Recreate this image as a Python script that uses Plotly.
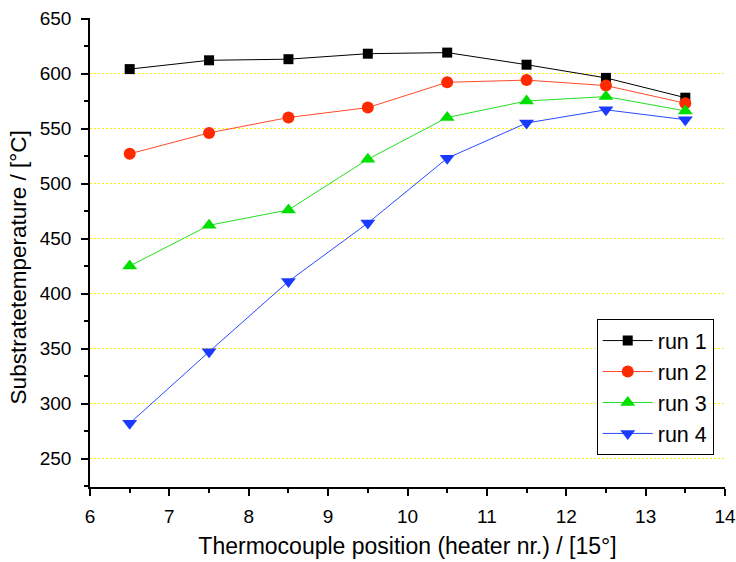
import plotly.graph_objects as go

# Thermocouple positions (heater number)
positions = [6.5, 7.5, 8.5, 9.5, 10.5, 11.5, 12.5, 13.5]

# Substrate temperature per run, °C
run1 = [604, 612, 613, 618, 619, 608, 596, 578]
run2 = [527, 546, 560, 569, 592, 594, 589, 573]
run3 = [425, 462, 476, 522, 560, 575, 579, 566]
run4 = [282, 347, 411, 464, 523, 555, 567, 558]

series = [
    ("run 1", run1, "#000000", "#000000", "square", 10),
    ("run 2", run2, "#ff4a2a", "#ff2a00", "circle", 12),
    ("run 3", run3, "#22e022", "#00e000", "triangle-up", 13),
    ("run 4", run4, "#2a4aff", "#1a3aff", "triangle-down", 13),
]

fig = go.Figure()

for name, vals, lcol, mcol, sym, size in series:
    fig.add_trace(go.Scatter(
        x=positions, y=vals, name=name, mode="lines+markers",
        line=dict(color=lcol, width=1),
        marker=dict(symbol=sym, size=size, color=mcol, line=dict(width=0)),
    ))

# invisible trace on the overlay axis carrying the dotted grid
fig.add_trace(go.Scatter(x=[6], y=[250], yaxis="y2", mode="markers",
                         marker=dict(opacity=0), showlegend=False, hoverinfo="skip"))

font_family = "Liberation Sans, Arial, sans-serif"
# 50 °C per 55 px over the 469 px tall plot area, so grid rows fall on pixel centres
y_top = 650.4545
y_bottom = y_top - 469 / 1.1
yr = [y_bottom, y_top]

fig.update_layout(
    width=736, height=562,
    margin=dict(l=90, r=11, t=18, b=75),
    paper_bgcolor="white", plot_bgcolor="white",
    font=dict(family=font_family, size=19, color="black"),
    showlegend=True,
    legend=dict(
        x=0.798, y=0.358, xanchor="left", yanchor="top",
        bordercolor="black", borderwidth=1, bgcolor="white",
        font=dict(size=21.5, family=font_family),
        tracegroupgap=0, itemwidth=50,
    ),
    xaxis=dict(
        range=[6, 14], dtick=1, tick0=6, automargin=False,
        showline=True, linecolor="black", linewidth=1.5,
        ticks="outside", ticklen=7, tickwidth=1.5, tickcolor="black",
        minor=dict(dtick=0.5, tick0=6, ticks="outside", ticklen=4, tickwidth=1.5, tickcolor="black"),
        showgrid=False, zeroline=False, ticklabelstandoff=4,
        title=dict(text="Thermocouple position (heater nr.) / [15°]", font=dict(size=23), standoff=12),
        tickfont=dict(size=19),
    ),
    yaxis=dict(
        range=yr, tickvals=[250, 300, 350, 400, 450, 500, 550, 600, 650], automargin=False,
        showline=True, linecolor="black", linewidth=1.5,
        ticks="outside", ticklen=7, tickwidth=1.5, tickcolor="black",
        minor=dict(dtick=25, tick0=0, ticks="outside", ticklen=4, tickwidth=1.5, tickcolor="black"),
        showgrid=False, zeroline=False, ticklabelstandoff=6,
        tickfont=dict(size=19),
    ),
    yaxis2=dict(
        range=yr, overlaying="y", side="left", automargin=False,
        tickvals=[250, 300, 350, 400, 450, 500, 550, 600],
        showticklabels=False, ticks="", showline=False, zeroline=False,
        showgrid=True, gridcolor="#f8f000", gridwidth=1, griddash="2px,2px",
        layer="below traces",
    ),
    annotations=[dict(
        text="Substratetemperature / [°C]", textangle=-90,
        xref="paper", yref="paper", x=-0.112, y=0.468,
        xanchor="center", yanchor="middle", showarrow=False,
        font=dict(size=22.5, family=font_family, color="black"),
    )],
)

fig.write_html("out.html")
